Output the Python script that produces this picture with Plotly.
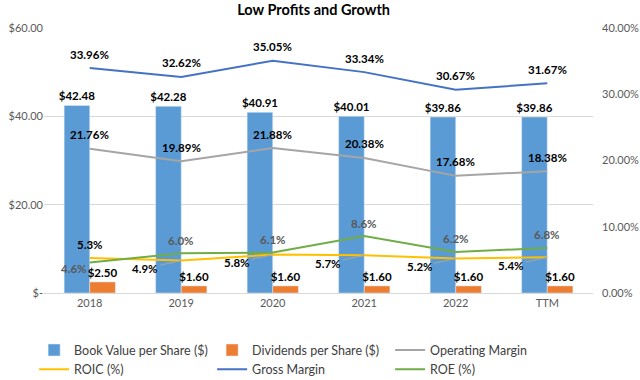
import plotly.graph_objects as go

categories = ["2018", "2019", "2020", "2021", "2022", "TTM"]
book_value = [42.48, 42.28, 40.91, 40.01, 39.86, 39.86]
dividends = [2.50, 1.60, 1.60, 1.60, 1.60, 1.60]
operating_margin = [21.76, 19.89, 21.88, 20.38, 17.68, 18.38]
roic = [5.3, 4.9, 5.8, 5.7, 5.2, 5.4]
gross_margin = [33.96, 32.62, 35.05, 33.34, 30.67, 31.67]
roe = [4.6, 6.0, 6.1, 8.6, 6.2, 6.8]

FONT = "Lato"
LBL = dict(family=FONT, size=11.5, color="#000000")
GREY_LBL = dict(family=FONT, size=11.5, color="#595959")

fig = go.Figure()
fig.add_trace(go.Bar(
    x=categories, y=book_value, name="Book Value per Share ($)",
    marker=dict(color="#5B9BD5"),
    text=[f"<b>${v:.2f}</b>" for v in book_value], textposition="outside",
    constraintext="none", textfont=LBL, cliponaxis=False, yaxis="y"))
fig.add_trace(go.Bar(
    x=categories, y=dividends, name="Dividends per Share ($)",
    marker=dict(color="#ED7D31"),
    text=[f"<b>${v:.2f}</b>" for v in dividends], textposition="outside",
    constraintext="none", textfont=LBL, cliponaxis=False, yaxis="y"))
fig.add_trace(go.Scatter(
    x=categories, y=[v / 100 for v in operating_margin], name="Operating Margin",
    mode="lines", line=dict(color="#A5A5A5", width=2), yaxis="y2"))
fig.add_trace(go.Scatter(
    x=categories, y=[v / 100 for v in roic], name="ROIC (%)",
    mode="lines", line=dict(color="#FFC000", width=2), yaxis="y2"))
fig.add_trace(go.Scatter(
    x=categories, y=[v / 100 for v in gross_margin], name="Gross Margin",
    mode="lines", line=dict(color="#4472C4", width=2), yaxis="y2"))
fig.add_trace(go.Scatter(
    x=categories, y=[v / 100 for v in roe], name="ROE (%)",
    mode="lines", line=dict(color="#70AD47", width=2), yaxis="y2"))

annotations = []
# Gross margin & operating margin labels (above points)
for series in (gross_margin, operating_margin):
    for i, v in enumerate(series):
        annotations.append(dict(x=i, y=v / 100, xref="x", yref="y2",
                                text=f"<b>{v:.2f}%</b>", showarrow=False,
                                yanchor="middle", yshift=14, font=LBL))
# ROE labels (grey)
for i, v in enumerate(roe):
    if i == 0:
        annotations.append(dict(x=i, y=v / 100, xref="x", yref="y2",
                                text=f"<b>{v:.1f}%</b>", showarrow=False,
                                xanchor="right", yanchor="middle", xshift=-1, yshift=-6,
                                font=GREY_LBL))
    else:
        annotations.append(dict(x=i, y=v / 100, xref="x", yref="y2",
                                text=f"<b>{v:.1f}%</b>", showarrow=False,
                                yanchor="middle", yshift=13, font=GREY_LBL))
# ROIC labels (black)
for i, v in enumerate(roic):
    if i == 0:
        annotations.append(dict(x=i, y=v / 100, xref="x", yref="y2",
                                text=f"<b>{v:.1f}%</b>", showarrow=False,
                                yanchor="middle", yshift=13, font=LBL))
    else:
        annotations.append(dict(x=i, y=v / 100, xref="x", yref="y2",
                                text=f"<b>{v:.1f}%</b>", showarrow=True,
                                arrowhead=0, arrowwidth=1, arrowcolor="#A6A6A6",
                                ax=-36, ay=8, standoff=0, font=LBL))

fig.update_layout(
    width=640, height=380,
    margin=dict(l=44, r=47, t=28, b=87, autoexpand=False),
    paper_bgcolor="white", plot_bgcolor="white",
    title=dict(text="<b>Low Profits and Growth</b>", x=0.49, xanchor="center",
               y=0.975, yanchor="middle",
               font=dict(family=FONT, size=14.5, color="#000000")),
    barmode="group", bargap=0.44, bargroupgap=0,
    font=dict(family=FONT, color="#595959"),
    xaxis=dict(type="category", range=[-0.5, 5.5], showgrid=False, showline=True,
               linecolor="#D9D9D9", ticks="",
               tickfont=dict(family=FONT, size=11, color="#595959")),
    yaxis=dict(range=[0, 60], tickvals=[0, 20, 40, 60],
               ticktext=["$-", "$20.00", "$40.00", "$60.00"],
               showgrid=True, gridcolor="#D9D9D9", zeroline=False,
               tickfont=dict(family=FONT, size=11, color="#595959")),
    yaxis2=dict(range=[0, 0.4], tickvals=[0, 0.1, 0.2, 0.3, 0.4],
                ticktext=["0.00%", "10.00%", "20.00%", "30.00%", "40.00%"],
                overlaying="y", side="right", showgrid=False, zeroline=False,
                ticks="", ticklabelstandoff=8,
                tickfont=dict(family=FONT, size=11, color="#595959")),
    legend=dict(orientation="h", x=-0.018, xanchor="left",
                y=-0.16, yanchor="top",
                entrywidth=133, entrywidthmode="pixels",
                font=dict(family=FONT, size=12.5, color="#404040"),
                tracegroupgap=0, itemwidth=30),
    annotations=annotations,
    showlegend=True,
)

fig.write_html("out.html")
